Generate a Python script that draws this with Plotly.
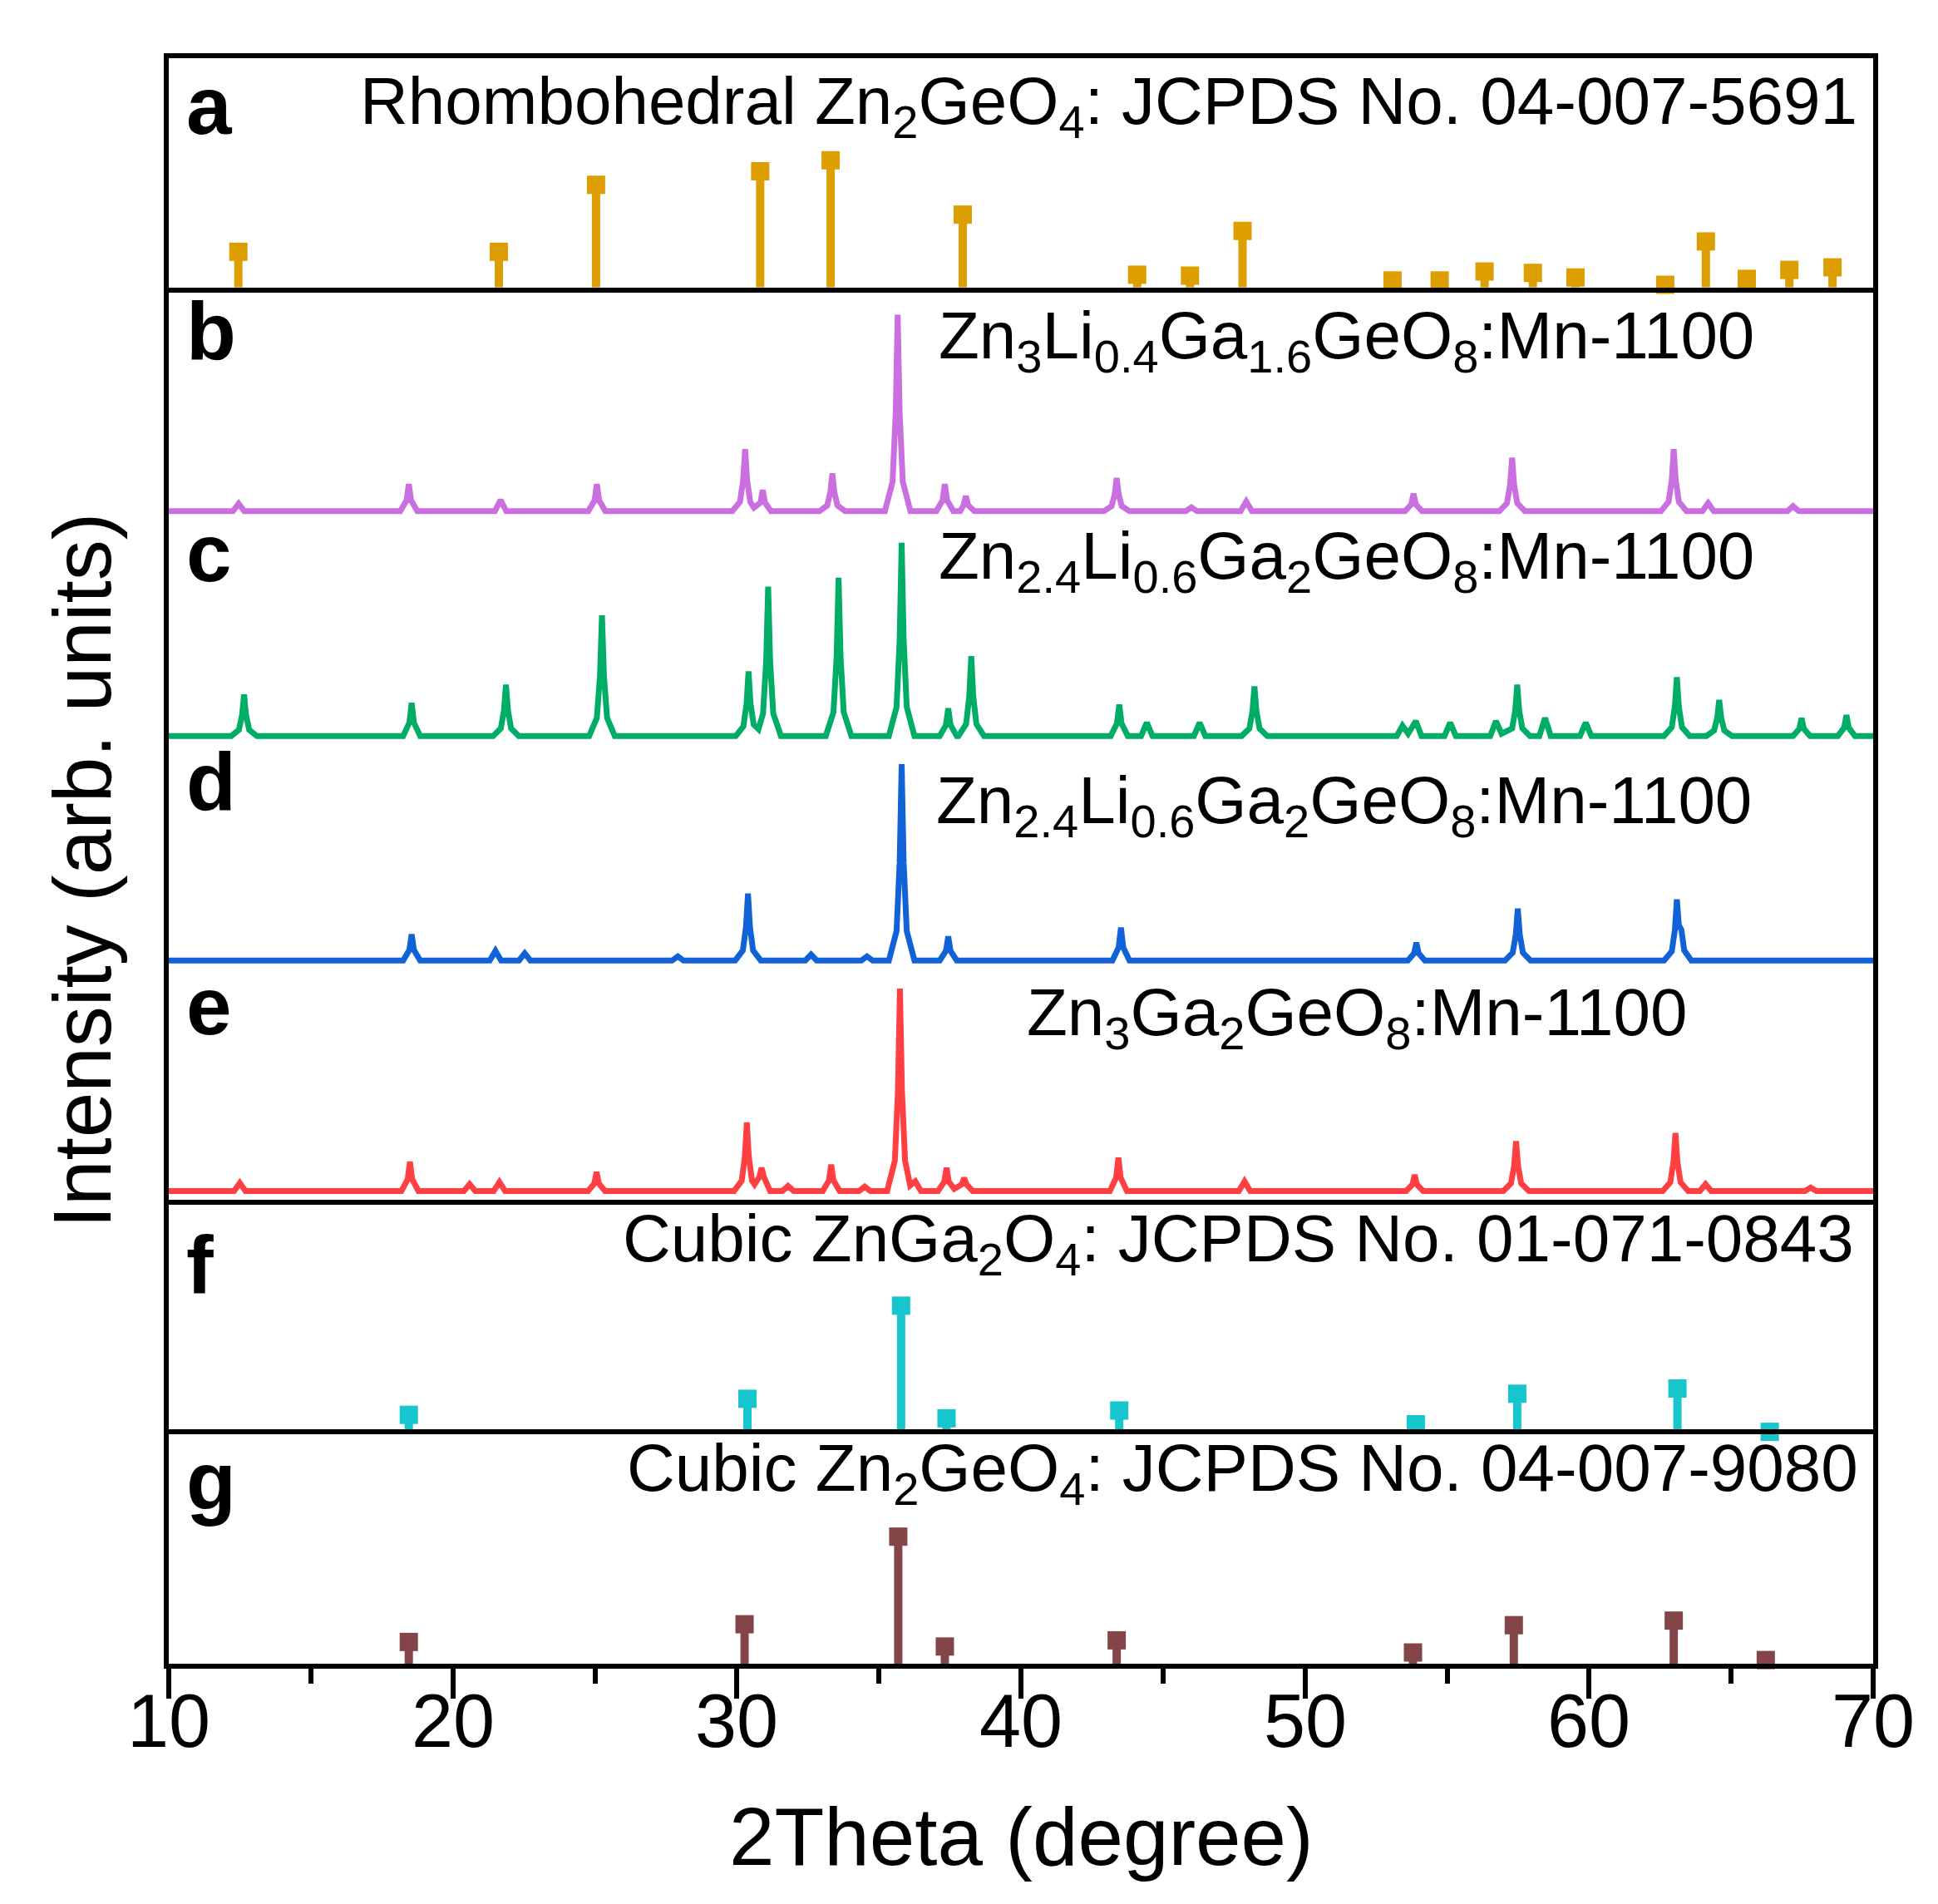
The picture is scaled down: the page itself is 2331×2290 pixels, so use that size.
"""
XRD patterns of the Zn-Li-Ga-Ge-O:Mn phosphors against the reference
JCPDS cards (rhombohedral Zn2GeO4, cubic ZnGa2O4, cubic Zn2GeO4).

Seven stacked panels share the 2Theta axis. Intensities are given in
percent of the panel height.
"""

from __future__ import annotations

import plotly.graph_objects as go
from plotly.subplots import make_subplots


# ---- reference cards (stick patterns) ----
A_POS = [12.45, 21.62, 25.04, 30.82, 33.30, 37.95, 44.09, 45.95, 47.80, 53.08,
         54.74, 56.32, 58.02, 59.52, 62.68, 64.11, 65.55, 67.05, 68.57]
A_INT = [15.6, 15.6, 44.8, 50.7, 55.5, 31.8, 5.6, 5.2, 24.7, 3.1,
         3.1, 7.0, 6.4, 4.4, 1.2, 20.1, 3.8, 7.7, 8.8]

F_POS = [18.45, 30.37, 35.78, 37.38, 43.46, 53.90, 57.47, 63.11, 66.36]
F_INT = [8.5, 15.5, 56.1, 7.0, 10.4, 4.4, 17.7, 20.0, 1.1]

G_POS = [18.45, 30.27, 35.68, 37.32, 43.37, 53.80, 57.35, 62.98, 66.22]
G_INT = [9.5, 17.2, 55.4, 7.5, 10.2, 4.9, 16.8, 18.8, 1.6]

B_X = [10, 12.26, 12.46, 12.66,
       18.15, 18.37, 18.45, 18.53, 18.75,
       21.48, 21.68, 21.88,
       24.77, 24.99, 25.07, 25.15, 25.37,
       29.84, 30.11, 30.22, 30.29, 30.36, 30.47, 30.6, 30.83, 30.91, 30.99, 31.2,
       32.91, 33.18, 33.29, 33.36, 33.43, 33.54, 33.81,
       35.21, 35.48, 35.59, 35.66, 35.73, 35.84, 36.11,
       37.02, 37.24, 37.32, 37.40, 37.62, 37.86, 37.98, 38.06, 38.14, 38.36,
       42.92, 43.19, 43.30, 43.37, 43.44, 43.55, 43.82,
       45.8, 46.0, 46.2,
       47.73, 47.93, 48.13,
       53.52, 53.74, 53.82, 53.90, 54.12,
       56.84, 57.11, 57.22, 57.29, 57.36, 57.47, 57.74,
       62.53, 62.80, 62.91, 62.98, 63.05, 63.16, 63.43,
       63.99, 64.19, 64.39,
       66.98, 67.18, 67.38, 70]
B_Y = [2.5, 2.5, 5.8, 2.5,
       2.5, 7.2, 14.3, 7.2, 2.5,
       2.5, 7.4, 2.5,
       2.5, 7.2, 14.3, 7.2, 2.5,
       2.5, 6.6, 16.0, 29.5, 16.0, 6.6, 4.0, 6.2, 11.7, 6.2, 2.5,
       2.5, 5.0, 10.8, 19.0, 10.8, 5.0, 2.5,
       2.5, 15.3, 45.3, 88.1, 45.3, 15.3, 2.5,
       2.5, 7.2, 14.3, 7.2, 2.5, 2.5, 5.1, 9.1, 5.1, 2.5,
       2.5, 4.7, 9.8, 17.0, 9.8, 4.7, 2.5,
       2.5, 4.2, 2.5,
       2.5, 6.7, 2.5,
       2.5, 5.5, 10.1, 5.5, 2.5,
       2.5, 6.0, 14.2, 25.8, 14.2, 6.0, 2.5,
       2.5, 6.6, 16.0, 29.5, 16.0, 6.6, 2.5,
       2.5, 6.0, 2.5,
       2.5, 4.7, 2.5, 2.5]

C_X = [10, 12.2, 12.47, 12.58, 12.65, 12.72, 12.83, 13.1,
       18.25, 18.47, 18.55, 18.63, 18.85,
       21.42, 21.69, 21.80, 21.87, 21.94, 22.05, 22.32,
       24.8, 25.07, 25.18, 25.25, 25.32, 25.43, 25.7,
       29.96, 30.23, 30.34, 30.41, 30.48, 30.59, 30.76, 30.92, 31.03, 31.10,
       31.17, 31.28, 31.55,
       33.13, 33.40, 33.51, 33.58, 33.65, 33.76, 34.03,
       35.35, 35.62, 35.73, 35.80, 35.87, 35.98, 36.25,
       37.14, 37.36, 37.44, 37.52, 37.74, 37.8, 38.07, 38.18, 38.25, 38.32,
       38.43, 38.7,
       43.16, 43.38, 43.46, 43.54, 43.76, 44.23, 44.43, 44.63,
       46.09, 46.29, 46.49,
       47.77, 48.04, 48.15, 48.22, 48.29, 48.40, 48.67,
       53.23, 53.43, 53.63, 53.90, 54.10, 54.91, 55.11, 55.31,
       56.52, 56.72, 56.92, 57.29, 57.40, 57.47, 57.54, 57.65, 57.92,
       58.25, 58.45, 58.65,
       59.68, 59.88, 60.08,
       62.64, 62.91, 63.02, 63.09, 63.16, 63.27, 63.54,
       64.13, 64.40, 64.51, 64.58, 64.65, 64.76, 65.03,
       67.18, 67.40, 67.48, 67.56, 67.78,
       68.76, 68.98, 69.06, 69.14, 69.36, 70]
C_Y = [4.5, 4.5, 7.2, 13.6, 22.6, 13.6, 7.2, 4.5,
       4.5, 10.3, 18.9, 10.3, 4.5,
       4.5, 7.8, 15.7, 26.8, 15.7, 7.8, 4.5,
       4.5, 12.4, 30.8, 57.1, 30.8, 12.4, 4.5,
       4.5, 8.7, 18.6, 32.7, 18.6, 9.5, 7.5, 14.3, 37.1, 69.6,
       37.1, 14.3, 4.5,
       4.5, 14.9, 39.0, 73.5, 39.0, 14.9, 4.5,
       4.5, 17.1, 46.6, 88.7, 46.6, 17.1, 4.5,
       4.5, 9.3, 16.5, 9.3, 4.5, 4.5, 9.7, 21.9, 39.3, 21.9,
       9.7, 4.5,
       4.5, 10.0, 18.2, 10.0, 4.5, 4.5, 10.3, 4.5,
       4.5, 10.3, 4.5,
       4.5, 7.7, 15.3, 26.1, 15.3, 7.7, 4.5,
       4.5, 9.0, 5.5, 11.0, 4.5, 4.5, 10.3, 4.5,
       4.5, 11.0, 5.5, 7.8, 15.6, 26.8, 15.6, 7.8, 4.5,
       4.5, 12.3, 4.5,
       4.5, 10.3, 4.5,
       4.5, 8.3, 17.3, 30.1, 17.3, 8.3, 4.5,
       4.5, 6.9, 12.4, 20.2, 12.4, 6.9, 4.5,
       4.5, 7.6, 12.3, 7.6, 4.5,
       4.5, 8.1, 13.6, 8.1, 4.5, 4.5]

D_X = [10, 18.25, 18.47, 18.55, 18.63, 18.85,
       21.3, 21.5, 21.7, 22.33, 22.53, 22.73,
       27.72, 27.92, 28.12,
       29.94, 30.21, 30.32, 30.39, 30.46, 30.57, 30.84,
       32.41, 32.61, 32.81, 34.38, 34.58, 34.78,
       35.35, 35.62, 35.73, 35.80, 35.87, 35.98, 36.25,
       37.14, 37.36, 37.44, 37.52, 37.74,
       43.22, 43.44, 43.52, 43.60, 43.82,
       53.62, 53.84, 53.92, 54.00, 54.22,
       57.04, 57.31, 57.42, 57.49, 57.56, 57.67, 57.94,
       62.64, 62.91, 63.02, 63.09, 63.16, 63.25, 63.35, 63.6, 70]
D_Y = [6.6, 6.6, 11.2, 18.0, 11.2, 6.6,
       6.6, 10.8, 6.6, 6.6, 9.7, 6.6,
       6.6, 8.4, 6.6,
       6.6, 11.0, 21.2, 35.8, 21.2, 11.0, 6.6,
       6.6, 9.2, 6.6, 6.6, 8.4, 6.6,
       6.6, 19.4, 49.4, 92.2, 49.4, 19.4, 6.6,
       6.6, 10.8, 17.1, 10.8, 6.6,
       6.6, 12.3, 20.9, 12.3, 6.6,
       6.6, 9.7, 14.4, 9.7, 6.6,
       6.6, 10.0, 17.9, 29.2, 17.9, 10.0, 6.6,
       6.6, 10.6, 19.9, 33.2, 22.0, 20.0, 11.0, 6.6, 6.6]

E_X = [10, 12.3, 12.5, 12.7,
       18.19, 18.41, 18.49, 18.57, 18.79,
       20.39, 20.59, 20.79, 21.44, 21.64, 21.84,
       24.76, 24.98, 25.06, 25.14, 25.36,
       29.9, 30.17, 30.28, 30.35, 30.42, 30.53, 30.62, 30.79, 30.87, 30.95,
       31.17, 31.6, 31.8, 32.0,
       33.02, 33.24, 33.32, 33.40, 33.62,
       34.3, 34.5, 34.7,
       35.29, 35.56, 35.67, 35.74, 35.81, 35.92, 36.1, 36.28, 36.48,
       37.08, 37.30, 37.38, 37.46, 37.65, 37.92, 38.00, 38.08, 38.3,
       43.13, 43.35, 43.43, 43.51, 43.73,
       47.67, 47.87, 48.07,
       53.56, 53.78, 53.86, 53.94, 54.16,
       56.98, 57.25, 57.36, 57.43, 57.50, 57.61, 57.88,
       62.59, 62.86, 62.97, 63.04, 63.11, 63.22, 63.49,
       63.9, 64.1, 64.3,
       67.6, 67.8, 68.0, 70]
E_Y = [6.1, 6.1, 9.6, 6.1,
       6.1, 11.2, 18.9, 11.2, 6.1,
       6.1, 9.1, 6.1, 6.1, 10.0, 6.1,
       6.1, 9.4, 14.4, 9.4, 6.1,
       6.1, 10.6, 21.1, 36.0, 21.1, 10.6, 9.0, 12.2, 16.2, 12.2,
       6.1, 6.1, 8.3, 6.1,
       6.1, 10.7, 17.6, 10.7, 6.1,
       6.1, 8.0, 6.1,
       6.1, 19.3, 50.2, 94.3, 50.2, 19.3, 8.5, 10.3, 6.1,
       6.1, 10.1, 16.2, 10.1, 7.0, 9.0, 11.8, 9.0, 6.1,
       6.1, 11.9, 20.6, 11.9, 6.1,
       6.1, 10.3, 6.1,
       6.1, 8.9, 13.1, 8.9, 6.1,
       6.1, 9.4, 17.0, 27.8, 17.0, 9.4, 6.1,
       6.1, 9.9, 18.8, 31.4, 18.8, 9.9, 6.1,
       6.1, 9.1, 6.1,
       6.1, 7.6, 6.1, 6.1]

TICK_VALS = [10, 20, 30, 40, 50, 60, 70]

PANEL_LETTERS = ["a", "b", "c", "d", "e", "f", "g"]
PANEL_TITLES = [
    "Rhombohedral Zn<sub>2</sub>GeO<sub>4</sub>: JCPDS No. 04-007-5691",
    "Zn<sub>3</sub>Li<sub>0.4</sub>Ga<sub>1.6</sub>GeO<sub>8</sub>:Mn-1100",
    "Zn<sub>2.4</sub>Li<sub>0.6</sub>Ga<sub>2</sub>GeO<sub>8</sub>:Mn-1100",
    "Zn<sub>2.4</sub>Li<sub>0.6</sub>Ga<sub>2</sub>GeO<sub>8</sub>:Mn-1100",
    "Zn<sub>3</sub>Ga<sub>2</sub>GeO<sub>8</sub>:Mn-1100",
    "Cubic ZnGa<sub>2</sub>O<sub>4</sub>: JCPDS No. 01-071-0843",
    "Cubic Zn<sub>2</sub>GeO<sub>4</sub>: JCPDS No. 04-007-9080",
]

COLORS = {
    "a": "#DC9E00",
    "b": "#CA6FDF",
    "c": "#00AD66",
    "d": "#1162D6",
    "e": "#FF3F42",
    "f": "#16C6CC",
    "g": "#844549",
}

FONT = "Liberation Sans, Arial, sans-serif"
# (x centre in degrees, y centre in % of panel) for the sample / card labels
TITLE_POS = [(43.08, 79.1), (51.47, 76.8), (51.47, 80.9), (51.37, 74.3),
             (51.85, 81.7), (47.65, 83.3), (47.8, 83.1)]
LETTER_Y = [79.2, 81.0, 84.3, 84.6, 86.8, 74.1, 79.5]


def add_sticks(fig, row, pos, inten, color):
    fig.add_trace(
        go.Scatter(
            x=pos,
            y=inten,
            mode="markers",
            marker={"symbol": "square", "size": 22, "color": color,
                    "line": {"width": 0}},
            error_y={"type": "data", "symmetric": False,
                     "array": [0] * len(inten), "arrayminus": inten,
                     "thickness": 10, "width": 0, "color": color},
            cliponaxis=False,
            showlegend=False,
        ),
        row=row,
        col=1,
    )


def add_pattern(fig, row, xs, ys, color):
    fig.add_trace(
        go.Scatter(x=xs, y=ys, mode="lines",
                   line={"color": color, "width": 7},
                   showlegend=False),
        row=row,
        col=1,
    )


def build_figure() -> go.Figure:
    fig = make_subplots(rows=7, cols=1, shared_xaxes=False,
                        vertical_spacing=0)

    add_sticks(fig, 1, A_POS, A_INT, COLORS["a"])
    add_pattern(fig, 2, B_X, B_Y, COLORS["b"])
    add_pattern(fig, 3, C_X, C_Y, COLORS["c"])
    add_pattern(fig, 4, D_X, D_Y, COLORS["d"])
    add_pattern(fig, 5, E_X, E_Y, COLORS["e"])
    add_sticks(fig, 6, F_POS, F_INT, COLORS["f"])
    add_sticks(fig, 7, G_POS, G_INT, COLORS["g"])

    line = {"showline": True, "linecolor": "black", "linewidth": 6}
    for r in range(1, 8):
        fig.update_yaxes(range=[0, 100], showgrid=False, zeroline=False,
                         showticklabels=False, ticks="", mirror=True,
                         row=r, col=1, **line)
        xkw = {"range": [10, 70], "showgrid": False, "zeroline": False,
               "showticklabels": False, "ticks": ""}
        if r == 1:
            xkw.update(line, mirror=True)
        elif r == 6:
            # only the e/f separator; the f/g one comes from panel g
            xkw.update(line, mirror=False, side="top")
        elif r == 7:
            xkw.update(line, mirror=True,
                       ticks="outside", tick0=10, dtick=10, ticklen=36,
                       tickwidth=6, tickcolor="black",
                       minor={"dtick": 5, "ticks": "outside", "ticklen": 18,
                              "tickwidth": 6, "tickcolor": "black"})
        else:
            xkw.update(showline=False)
        fig.update_xaxes(row=r, col=1, **xkw)

    for i in range(7):
        suffix = "" if i == 0 else str(i + 1)
        fig.add_annotation(
            x=10.56, y=LETTER_Y[i], xref="x" + suffix, yref="y" + suffix,
            text=f"<b>{PANEL_LETTERS[i]}</b>", showarrow=False,
            xanchor="left", yanchor="middle",
            font={"size": 98, "color": "black"},
        )
        tx, ty = TITLE_POS[i]
        fig.add_annotation(
            x=tx, y=ty, xref="x" + suffix, yref="y" + suffix,
            text=PANEL_TITLES[i], showarrow=False,
            xanchor="center", yanchor="middle",
            font={"size": 80, "color": "black"},
        )

    # bottom tick labels
    for v in TICK_VALS:
        fig.add_annotation(x=v, y=-0.0355, xref="x7", yref="paper",
                           text=str(v), showarrow=False,
                           xanchor="center", yanchor="middle",
                           font={"size": 90, "color": "black"})

    # axis titles
    fig.add_annotation(x=0.5, y=-0.1077, xref="paper", yref="paper",
                       text="2Theta (degree)", showarrow=False,
                       xanchor="center", yanchor="middle",
                       font={"size": 98, "color": "black"})
    fig.add_annotation(x=-0.0507, y=0.494, xref="paper", yref="paper",
                       text="Intensity (arb. units)", showarrow=False,
                       textangle=-90, xanchor="center", yanchor="middle",
                       font={"size": 98, "color": "black"})

    fig.update_layout(
        width=2331,
        height=2290,
        margin={"l": 195, "r": 86, "t": 62, "b": 297},
        font={"family": FONT, "color": "black"},
        plot_bgcolor="white",
        paper_bgcolor="white",
        showlegend=False,
    )
    return fig


def main() -> None:
    fig = build_figure()
    fig.write_html("out.html")


if __name__ == "__main__":
    main()
